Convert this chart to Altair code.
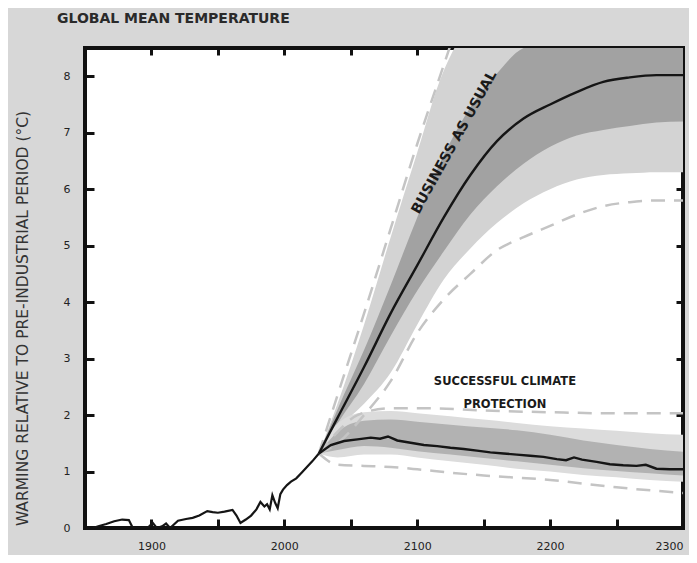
import altair as alt
import pandas as pd

# ---------------- data ----------------
hist_year = [1856, 1860, 1866, 1872, 1878, 1883, 1886, 1892, 1898, 1901, 1904, 1908, 1911, 1914,
             1920, 1926, 1931, 1936, 1942, 1946, 1950, 1955, 1961, 1964, 1967, 1971, 1975, 1979,
             1982, 1985, 1987, 1989, 1991, 1993, 1995, 1997, 1999, 2002, 2005, 2009, 2013, 2017,
             2021, 2026]
hist_temp = [0.0, 0.03, 0.07, 0.12, 0.15, 0.14, 0.0, 0.0, 0.02, 0.09, 0.0, 0.03, 0.08, 0.0,
             0.13, 0.16, 0.18, 0.22, 0.30, 0.28, 0.27, 0.29, 0.32, 0.22, 0.09, 0.15, 0.22, 0.33,
             0.46, 0.38, 0.42, 0.33, 0.58, 0.45, 0.35, 0.60, 0.68, 0.76, 0.82, 0.88, 0.98, 1.08,
             1.18, 1.32]

bau_year = [2026, 2040, 2060, 2080, 2100, 2120, 2140, 2160, 2180, 2200, 2220, 2240, 2260, 2280, 2300]
bau_mid = [1.32, 1.95, 2.85, 3.8, 4.65, 5.5, 6.25, 6.85, 7.25, 7.5, 7.72, 7.9, 7.98, 8.02, 8.02]
bau_dark_lo = [1.32, 1.85, 2.55, 3.4, 4.2, 4.9, 5.55, 6.05, 6.45, 6.75, 6.95, 7.05, 7.12, 7.18, 7.2]
bau_dark_hi = [1.32, 2.1, 3.15, 4.3, 5.5, 6.6, 7.45, 8.05, 8.5, 8.6, 8.6, 8.6, 8.6, 8.6, 8.6]
bau_light_lo = [1.32, 1.75, 2.2, 2.75, 3.6, 4.4, 4.95, 5.4, 5.75, 6.0, 6.17, 6.25, 6.28, 6.3, 6.3]
bau_light_hi = [1.32, 2.2, 3.6, 5.15, 6.65, 8.1, 8.8, 8.8, 8.8, 8.8, 8.8, 8.8, 8.8, 8.8, 8.8]

bau_dhi_year = [2026, 2040, 2060, 2080, 2100, 2120, 2130]
bau_dhi = [1.32, 2.35, 3.8, 5.3, 6.8, 8.2, 8.9]
bau_dlo_year = [2026, 2040, 2060, 2080, 2100, 2120, 2140, 2160, 2180, 2200, 2220, 2240, 2260, 2280, 2300]
bau_dlo = [1.32, 1.5, 2.0, 2.6, 3.45, 4.05, 4.5, 4.92, 5.15, 5.35, 5.55, 5.7, 5.77, 5.8, 5.8]

prot_year = [2026, 2040, 2060, 2080, 2100, 2125, 2150, 2175, 2200, 2225, 2250, 2275, 2300]
prot_light_lo = [1.32, 1.25, 1.3, 1.3, 1.25, 1.18, 1.12, 1.05, 1.0, 0.94, 0.9, 0.85, 0.82]
prot_dark_lo = [1.32, 1.38, 1.45, 1.42, 1.36, 1.3, 1.24, 1.18, 1.12, 1.06, 1.01, 0.97, 0.93]
prot_dark_hi = [1.32, 1.7, 1.9, 1.92, 1.88, 1.83, 1.78, 1.73, 1.65, 1.55, 1.47, 1.4, 1.35]
prot_light_hi = [1.32, 1.85, 2.05, 2.07, 2.03, 1.98, 1.92, 1.86, 1.8, 1.76, 1.72, 1.68, 1.65]

prot_line_year = [2026, 2035, 2045, 2055, 2065, 2072, 2078, 2085, 2095, 2105, 2115, 2125, 2135,
                  2145, 2155, 2165, 2175, 2185, 2195, 2205, 2212, 2218, 2224, 2235, 2245, 2255,
                  2265, 2272, 2280, 2290, 2300]
prot_line = [1.32, 1.47, 1.54, 1.57, 1.60, 1.58, 1.62, 1.55, 1.51, 1.47, 1.45, 1.42, 1.40,
             1.37, 1.34, 1.32, 1.30, 1.28, 1.26, 1.22, 1.20, 1.25, 1.21, 1.17, 1.13, 1.11,
             1.10, 1.12, 1.05, 1.04, 1.04]

prot_dhi_year = [2026, 2040, 2055, 2080, 2110, 2150, 2200, 2250, 2300]
prot_dhi = [1.32, 1.7, 2.0, 2.12, 2.12, 2.08, 2.05, 2.03, 2.03]
prot_dlo_year = [2026, 2040, 2060, 2080, 2100, 2125, 2150, 2200, 2250, 2300]
prot_dlo = [1.32, 1.12, 1.1, 1.08, 1.04, 0.98, 0.93, 0.85, 0.72, 0.62]

# tick positions (inward ticks on the frame) and tick labels
x_ticks = [1900, 1950, 2000, 2050, 2100, 2150, 2200, 2250, 2300]
x_labels = [1900, 2000, 2100, 2200, 2300]
y_ticks = [0, 1, 2, 3, 4, 5, 6, 7, 8]

labels = ["SUCCESSFUL CLIMATE", "PROTECTION"]
label_year = [2166, 2166]
label_t = [2.58, 2.18]

# ---------------- chart ----------------
W, H = 598, 480
FONT = "DejaVu Sans"
TK = 9  # inward tick length in px
xs = alt.Scale(domain=[1850, 2300], nice=False, zero=False)
ys = alt.Scale(domain=[0, 8.5], nice=False)

lab_expr = "indexof([" + ",".join(str(v) for v in x_labels) + "], datum.value) >= 0 ? datum.label : ''"

x_axis = alt.Axis(values=x_ticks, format="d", labelExpr=lab_expr, title=None,
                  offset=-TK, ticks=True, tickSize=TK, tickWidth=3, tickColor="#111",
                  grid=False, domain=False,
                  labelFont=FONT, labelFontSize=11, labelColor="#222", labelPadding=12)
y_axis = alt.Axis(values=y_ticks, format="d",
                  title="WARMING RELATIVE TO PRE-INDUSTRIAL PERIOD (°C)",
                  titleFont=FONT, titleFontSize=15.5, titleFontWeight="normal", titleColor="#333",
                  titleAngle=270, titleX=-63 - TK, titleY=270, titleAlign="center", titleBaseline="middle",
                  offset=-TK, ticks=True, tickSize=TK, tickWidth=3, tickColor="#111",
                  grid=False, domain=False,
                  labelFont=FONT, labelFontSize=11, labelColor="#222", labelPadding=15)
x_axis_top = alt.Axis(orient="top", values=x_ticks[:-1], labels=False, title=None,
                      offset=-TK + 2, ticks=True, tickSize=TK - 2, tickWidth=3, tickColor="#111",
                      grid=False, domain=False)
y_axis_right = alt.Axis(orient="right", values=y_ticks[1:-1], labels=False, title=None,
                        offset=-TK + 2, ticks=True, tickSize=TK - 2, tickWidth=3, tickColor="#111",
                        grid=False, domain=False)


def X(field, axis=x_axis):
    return alt.X(f"{field}:Q", scale=xs, axis=axis)


def Y(field, axis=y_axis):
    return alt.Y(f"{field}:Q", scale=ys, axis=axis)


def band(years, lo, hi, color):
    df = pd.DataFrame({"year": years, "lo": lo, "hi": hi})
    return alt.Chart(df).mark_area(color=color, opacity=1, clip=True, interpolate="monotone").encode(
        x=X("year"), y=Y("lo"), y2="hi:Q")


def line(years, vals, color, width, dash=None, interp="monotone"):
    df = pd.DataFrame({"year": years, "t": vals})
    kw = dict(color=color, strokeWidth=width, clip=True, interpolate=interp)
    if dash:
        kw["strokeDash"] = dash
    return alt.Chart(df).mark_line(**kw).encode(x=X("year"), y=Y("t"))


LIGHT = "#d3d3d3"
DARK = "#a2a2a2"
PLIGHT = "#dcdcdc"
PDARK = "#b2b2b2"
DASH = "#c4c4c4"
INK = "#151515"

layers = [
    band(bau_year, bau_light_lo, bau_light_hi, LIGHT),
    band(bau_year, bau_dark_lo, bau_dark_hi, DARK),
    band(prot_year, prot_light_lo, prot_light_hi, PLIGHT),
    band(prot_year, prot_dark_lo, prot_dark_hi, PDARK),
    line(bau_dhi_year, bau_dhi, DASH, 2.5, [14, 9]),
    line(bau_dlo_year, bau_dlo, DASH, 2.5, [14, 9]),
    line(prot_dhi_year, prot_dhi, DASH, 2.5, [14, 9]),
    line(prot_dlo_year, prot_dlo, DASH, 2.5, [14, 9]),
    line(hist_year, hist_temp, INK, 2.2, interp="linear"),
    line(bau_year, bau_mid, INK, 2.4),
    line(prot_line_year, prot_line, INK, 2.4, interp="linear"),
]

bau_text = alt.Chart(pd.DataFrame({"year": [2128], "t": [6.83], "txt": ["BUSINESS AS USUAL"]})).mark_text(
    angle=299, font=FONT, fontSize=14, fontWeight="bold", color="#1a1a1a",
    align="center", baseline="middle").encode(x=X("year"), y=Y("t"), text="txt:N")

main = alt.layer(*layers, bau_text)

# second child carries the top and right axes (ticks only)
prot_text = alt.Chart(pd.DataFrame({"year": label_year, "t": label_t, "txt": labels})).mark_text(
    font=FONT, fontSize=11.5, fontWeight="bold", color="#1a1a1a",
    align="center", baseline="middle").encode(
    x=X("year", x_axis_top), y=Y("t", y_axis_right), text="txt:N")

chart = alt.layer(main, prot_text).resolve_axis(x="independent", y="independent").properties(
    width=W, height=H,
    background="#d7d7d7",
    autosize=alt.AutoSizeParams(type="none"),
    padding={"left": 77, "top": 40, "right": 6, "bottom": 27},
    title=alt.TitleParams("GLOBAL MEAN TEMPERATURE", anchor="start", frame="group", dx=-28,
                          offset=21, font=FONT, fontSize=14, fontWeight="bold", color="#2a2a2a"),
).configure_view(stroke="#111", strokeWidth=4, fill="white")

chart.save("out.html", embed_options={"renderer": "svg", "actions": False})
